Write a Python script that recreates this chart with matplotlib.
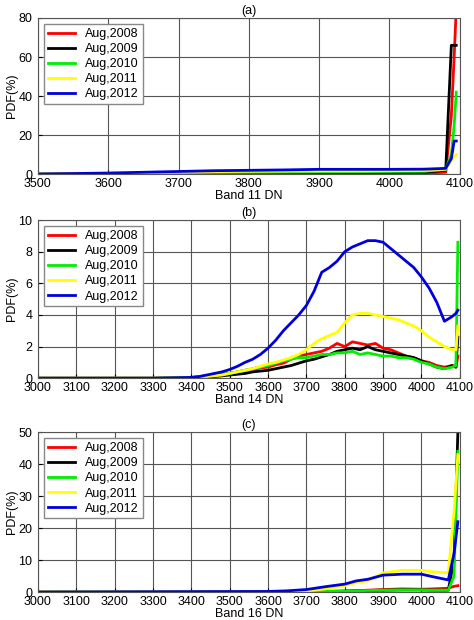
import matplotlib
matplotlib.use("Agg")
import matplotlib.pyplot as plt
import numpy as np

plt.rcParams['font.family'] = ['Liberation Sans', 'DejaVu Sans']
plt.rcParams['font.size'] = 9

labels = ['Aug,2008', 'Aug,2009', 'Aug,2010', 'Aug,2011', 'Aug,2012']
colors = ['#ff0000', '#000000', '#00ee00', '#ffff00', '#0000dd']

# Panel (a) Band 11
xa = [3500, 3600, 3650, 3700, 3750, 3800, 3850, 3900, 3950, 4000, 4050, 4080, 4088, 4092, 4095]
a_red    = [0, 0.1, 0.1, 0.2, 0.2, 0.3, 0.3, 0.4, 0.4, 0.5, 0.6, 1.0, 30, 60, 85]
a_black  = [0, 0.2, 0.3, 0.4, 0.5, 0.6, 0.7, 0.8, 0.8, 0.9, 1.0, 2.0, 66, 66, 66]
a_green  = [0, 0.3, 0.5, 0.7, 0.9, 1.0, 1.1, 1.2, 1.3, 1.4, 1.5, 2.5, 10, 25, 42]
a_yellow = [0, 0.5, 0.8, 1.1, 1.3, 1.5, 1.6, 1.7, 1.7, 1.8, 1.9, 2.5, 7, 9, 10]
a_blue   = [0.1, 0.6, 1.0, 1.4, 1.8, 2.0, 2.2, 2.5, 2.5, 2.5, 2.6, 3.0, 8, 17, 17]

# Panel (b) Band 14
xb = [3000, 3300, 3400, 3420, 3440, 3460, 3480, 3500, 3520, 3540, 3560, 3580, 3600, 3620, 3640,
      3660, 3680, 3700, 3720, 3740, 3760, 3780, 3800, 3820, 3840, 3860, 3880, 3900, 3920,
      3940, 3960, 3980, 4000, 4020, 4040, 4060, 4080, 4090, 4095]
b_red    = [0, 0, 0.05, 0.1, 0.15, 0.2, 0.25, 0.3, 0.4, 0.5, 0.55, 0.65, 0.7, 0.85, 0.95,
            1.2, 1.4, 1.5, 1.6, 1.7, 1.9, 2.2, 2.0, 2.3, 2.2, 2.1, 2.2, 1.9, 1.8,
            1.6, 1.4, 1.3, 1.1, 1.0, 0.8, 0.7, 0.8, 0.7, 1.4]
b_black  = [0, 0, 0.02, 0.05, 0.08, 0.1, 0.15, 0.2, 0.25, 0.3, 0.4, 0.45, 0.5, 0.6, 0.7,
            0.8, 0.95, 1.1, 1.2, 1.35, 1.5, 1.7, 1.8, 1.9, 1.8, 2.0, 1.8, 1.7, 1.6,
            1.5, 1.4, 1.3, 1.1, 0.9, 0.7, 0.6, 0.8, 0.7, 2.6]
b_green  = [0, 0, 0.05, 0.1, 0.15, 0.2, 0.25, 0.3, 0.4, 0.5, 0.6, 0.7, 0.8, 0.95, 1.1,
            1.2, 1.3, 1.3, 1.4, 1.5, 1.5, 1.6, 1.6, 1.7, 1.5, 1.6, 1.5, 1.4, 1.4,
            1.3, 1.3, 1.2, 1.0, 0.9, 0.7, 0.6, 0.7, 0.8, 8.6]
b_yellow = [0, 0, 0.02, 0.05, 0.1, 0.15, 0.2, 0.3, 0.4, 0.5, 0.6, 0.75, 0.9, 1.0, 1.15,
            1.3, 1.5, 1.8, 2.2, 2.5, 2.7, 2.9, 3.5, 4.0, 4.1, 4.1, 4.0, 3.9, 3.8,
            3.7, 3.5, 3.3, 3.0, 2.6, 2.3, 2.0, 1.8, 1.8, 3.3]
b_blue   = [0, 0, 0.05, 0.1, 0.2, 0.3, 0.4, 0.55, 0.75, 1.0, 1.2, 1.5, 1.9, 2.4, 3.0,
            3.5, 4.0, 4.6, 5.5, 6.7, 7.0, 7.4, 8.0, 8.3, 8.5, 8.7, 8.7, 8.6, 8.2,
            7.8, 7.4, 7.0, 6.4, 5.7, 4.8, 3.6, 3.9, 4.1, 4.3]

# Panel (c) Band 16
xc = [3000, 3600, 3650, 3700, 3750, 3800, 3830, 3860, 3900, 3950, 4000, 4030, 4070, 4085, 4095]
c_red    = [0, 0, 0, 0.1, 0.2, 0.3, 0.4, 0.6, 0.8, 1.0, 0.9, 1.0, 1.2, 1.8, 2.0]
c_black  = [0, 0, 0, 0.1, 0.2, 0.3, 0.4, 0.5, 0.6, 0.7, 0.7, 0.6, 0.6, 10, 50]
c_green  = [0, 0, 0, 0.1, 0.2, 0.3, 0.4, 0.5, 0.6, 0.7, 0.7, 0.6, 0.6, 5, 44]
c_yellow = [0, 0, 0.1, 0.3, 1.0, 2.0, 3.0, 3.5, 6.0, 6.8, 6.8, 6.3, 6.0, 25, 43]
c_blue   = [0, 0.2, 0.4, 0.8, 1.7, 2.5, 3.5, 4.0, 5.3, 5.6, 5.6, 4.8, 3.8, 12, 22]

fig = plt.figure(figsize=(4.74, 6.2), dpi=100)
panels = [
    ([0.08, 0.719, 0.89, 0.252], xa, [a_red, a_black, a_green, a_yellow, a_blue],
     (3500, 4100), np.arange(3500, 4101, 100), (0, 80), np.arange(0, 81, 20), 'Band 11 DN', '(a)'),
    ([0.08, 0.390, 0.89, 0.255], xb, [b_red, b_black, b_green, b_yellow, b_blue],
     (3000, 4100), np.arange(3000, 4101, 100), (0, 10), np.arange(0, 11, 2), 'Band 14 DN', '(b)'),
    ([0.08, 0.045, 0.89, 0.258], xc, [c_red, c_black, c_green, c_yellow, c_blue],
     (3000, 4100), np.arange(3000, 4101, 100), (0, 50), np.arange(0, 51, 10), 'Band 16 DN', '(c)'),
]
for rect, x, ys, xl, xt, yl, yt, xlab, title in panels:
    ax = fig.add_axes(rect)
    for y, c, l in zip(ys, colors, labels):
        ax.plot(x, y, color=c, lw=2, label=l)
    ax.set_xlim(*xl)
    ax.set_ylim(*yl)
    ax.set_xticks(xt)
    ax.set_yticks(yt)
    ax.grid(True, color='#555555', lw=0.8)
    ax.set_axisbelow(True)
    ax.set_xlabel(xlab, labelpad=0)
    ax.set_ylabel('PDF(%)', labelpad=0)
    ax.set_title(title, pad=3, fontsize=9)
    ax.tick_params(axis='x', direction='in', length=3, pad=3)
    ax.tick_params(axis='y', direction='in', length=3, pad=4)
    for s in ax.spines.values():
        s.set_color('#555555')
    ax.legend(loc='upper left', fancybox=False, framealpha=1, edgecolor='#888888',
              handlelength=2.2, borderpad=0.3, labelspacing=0.25, fontsize=9)

fig.savefig('out.png', dpi=100)
